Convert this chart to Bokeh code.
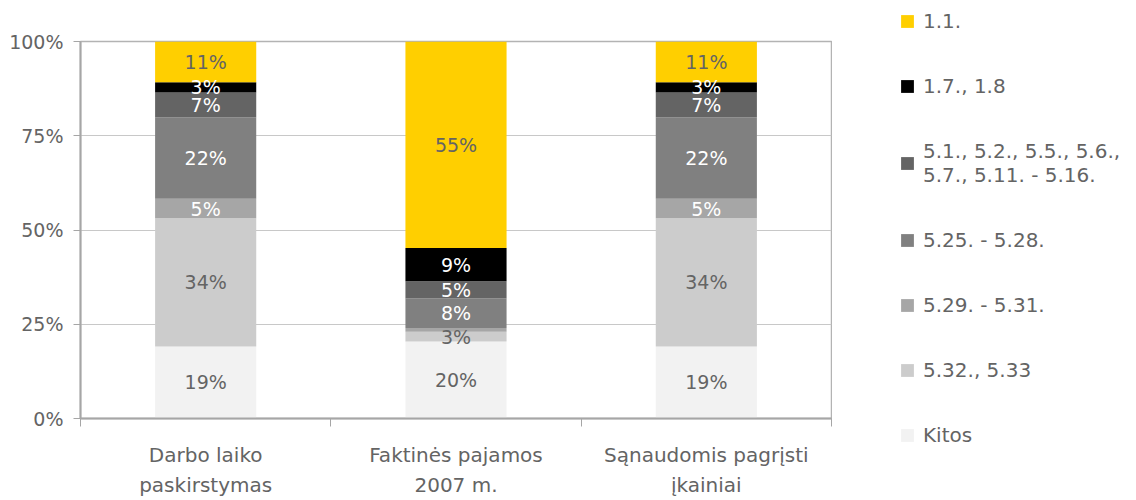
from bokeh.plotting import figure
from bokeh.layouts import row
from bokeh.models import ColumnDataSource, FixedTicker, Legend, LegendItem, Range1d, PrintfTickFormatter
from bokeh.core.properties import value
from bokeh.embed import file_html
from bokeh.resources import INLINE

categories = ["Darbo laiko\npaskirstymas", "Faktinės pajamos\n2007 m.", "Sąnaudomis pagrįsti\nįkainiai"]
series_names = ["Kitos", "5.32., 5.33", "5.29. - 5.31.", "5.25. - 5.28.",
                "5.1., 5.2., 5.5., 5.6.,\n5.7., 5.11. - 5.16.", "1.7., 1.8", "1.1."]
kitos = [19.1, 20.4, 19.1]
s532_533 = [34.0, 2.6, 34.0]
s529_531 = [5.2, 1.0, 5.2]
s525_528 = [21.6, 7.8, 21.6]
s51_516 = [6.6, 4.6, 6.6]
s17_18 = [2.7, 8.8, 2.7]
s11 = [10.8, 54.8, 10.8]
series_values = [kitos, s532_533, s529_531, s525_528, s51_516, s17_18, s11]

colors = ["#F2F2F2", "#CCCCCC", "#A6A6A6", "#808080", "#646464", "#000000", "#FFCF00"]
label_colors = ["#646464", "#646464", "#FFFFFF", "#FFFFFF", "#FFFFFF", "#FFFFFF", "#646464"]
TEXT = "#646464"
FONT = "DejaVu Sans"
AXIS = "#a6a6a6"

xs = [i + 0.5 for i in range(len(categories))]
keys = ["s%d" % i for i in range(len(series_values))]
data = {"x": xs}
for k, v in zip(keys, series_values):
    data[k] = v
source = ColumnDataSource(data)

p = figure(width=832, height=500, x_range=Range1d(0, len(categories)), y_range=Range1d(0, 100),
           output_backend="svg", toolbar_location=None,
           min_border_left=80, min_border_top=41, min_border_bottom=82, min_border_right=1)

renderers = p.vbar_stack(keys, x="x", width=0.404, fill_color=colors, line_color=None, source=source)

# data labels
lx, ly, lt, lc = [], [], [], []
for ci, xv in enumerate(xs):
    base = 0.0
    for si, vals in enumerate(series_values):
        v = vals[ci]
        if v >= 1.5:
            lx.append(xv)
            ly.append(base + v / 2)
            lt.append("%d%%" % round(v))
            lc.append(label_colors[si])
        base += v
lsrc = ColumnDataSource(dict(x=lx, y=ly, t=lt, c=lc))
p.text(x="x", y="y", text="t", text_color="c", text_align="center", text_baseline="middle",
       text_font=value(FONT), text_font_size="19px", source=lsrc)

# axes
p.xaxis.ticker = FixedTicker(ticks=xs, minor_ticks=list(range(len(categories) + 1)))
p.xaxis.major_label_overrides = {xv: c for xv, c in zip(xs, categories)}
p.xaxis.major_tick_line_color = None
p.xaxis.major_tick_out = 0
p.xaxis.major_tick_in = 0
p.xaxis.minor_tick_line_color = AXIS
p.xaxis.minor_tick_out = 8
p.xaxis.minor_tick_in = 0
p.xaxis.major_label_standoff = 16
p.xaxis.major_label_text_line_height = 1.25

p.yaxis.ticker = FixedTicker(ticks=[0, 25, 50, 75, 100])
p.yaxis.formatter = PrintfTickFormatter(format="%d%%")
p.yaxis.major_tick_out = 7
p.yaxis.major_tick_in = 0
p.yaxis.minor_tick_line_color = None
p.yaxis.major_tick_line_color = AXIS
p.yaxis.major_label_standoff = 10

for ax in (p.xaxis, p.yaxis):
    ax.axis_line_color = AXIS
    ax.axis_line_width = 2
    ax.major_label_text_font = FONT
    ax.major_label_text_color = TEXT
p.xaxis.major_label_text_font_size = "20px"
p.yaxis.major_label_text_font_size = "19px"

p.xgrid.visible = False
p.ygrid.grid_line_color = "#c8c8c8"
p.outline_line_color = "#b3b3b3"
p.outline_line_width = 1.5

# legend panel (legend sits in a side panel of a second, empty figure)
p2 = figure(width=304, height=500, x_range=Range1d(0, 1), y_range=Range1d(0, 1),
            output_backend="svg", toolbar_location=None, x_axis_type=None, y_axis_type=None,
            min_border_left=0, min_border_right=0, min_border_top=0, min_border_bottom=0)
p2.outline_line_color = None
p2.grid.visible = False
legend_renderers = [p2.vbar(x=[-5], top=[0], bottom=[0], width=0.5, fill_color=c, line_color=None)
                    for c in colors]

items = [LegendItem(label=n, renderers=[r]) for n, r in zip(series_names, legend_renderers)][::-1]
legend = Legend(items=items, location=(67, -29), glyph_width=16, glyph_height=16, label_standoff=8,
                spacing=41, padding=0, margin=0, border_line_color=None, background_fill_alpha=0,
                label_text_font=FONT, label_text_font_size="20px", label_text_color=TEXT)
p2.add_layout(legend, "left")

layout = row(p, p2)
open("out.html", "w").write(file_html(layout, INLINE))
